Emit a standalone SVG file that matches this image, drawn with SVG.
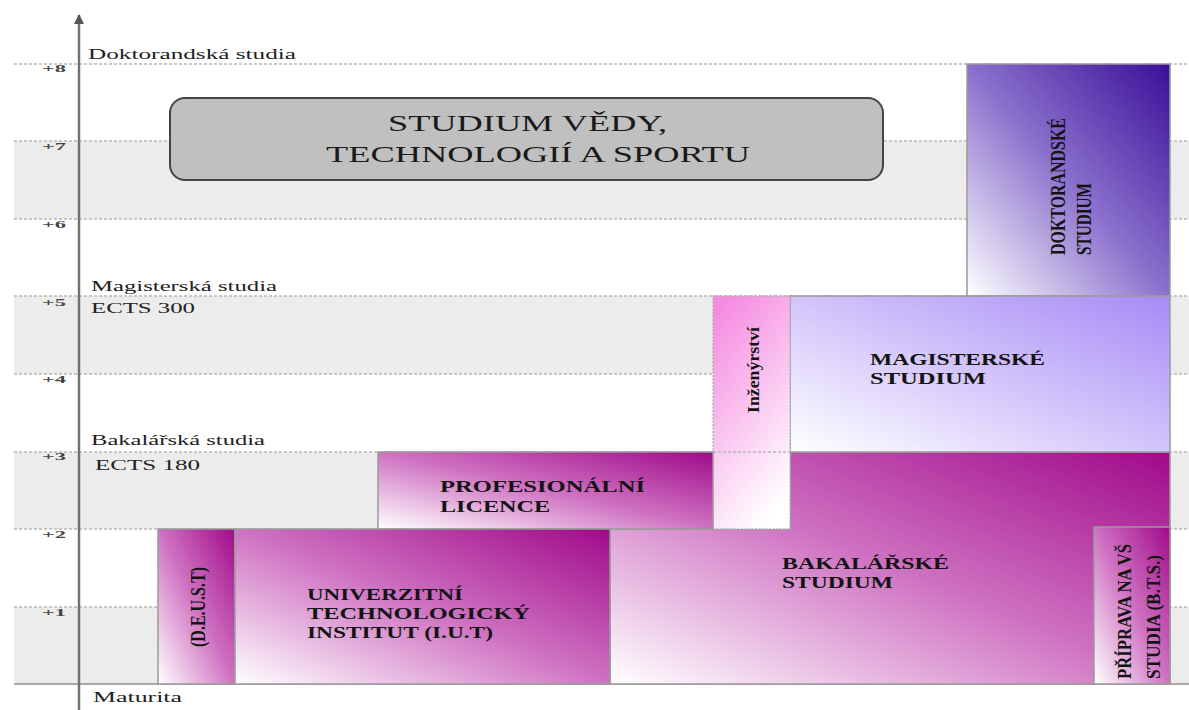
<svg xmlns="http://www.w3.org/2000/svg" width="1189" height="710" viewBox="0 0 1189 710">
<defs>
<style>
.band{fill:#ececec}
.grid{stroke:#b8b8b8;stroke-width:1.3;stroke-dasharray:3 2;fill:none}
.tick{font-weight:bold;font-size:11px;fill:#444;text-anchor:end}
.lab{font-size:15px;fill:#222}
.box{stroke:#9a9a9a;stroke-width:1.5}
.bt{font-weight:bold;font-size:17px;fill:#141414}
.vt{font-weight:bold;fill:#141414}
.head{font-size:23px;fill:#1a1a1a}
</style>
<linearGradient id="gMag" x1="0" y1="1" x2="1" y2="0">
<stop offset="0" stop-color="#ffffff"/>
<stop offset="0.5" stop-color="#cf72c2"/>
<stop offset="1" stop-color="#a00a8a"/>
</linearGradient>
<linearGradient id="gDok" x1="0" y1="1" x2="1" y2="0">
<stop offset="0" stop-color="#ffffff"/>
<stop offset="0.5" stop-color="#8a70cc"/>
<stop offset="1" stop-color="#3a0f98"/>
</linearGradient>
<linearGradient id="gMgr" x1="0" y1="1" x2="1" y2="0">
<stop offset="0" stop-color="#ffffff"/>
<stop offset="1" stop-color="#a68af6"/>
</linearGradient>
<linearGradient id="gIng" x1="0.2" y1="0" x2="0.6" y2="1">
<stop offset="0" stop-color="#f58be1"/>
<stop offset="1" stop-color="#ffffff"/>
</linearGradient>
<marker id="arr" viewBox="0 0 10 10" refX="9" refY="5" markerWidth="4" markerHeight="4" orient="auto">
<path d="M0,0 L10,5 L0,10 z" fill="#555"/>
</marker>
</defs>
<rect width="1189" height="710" fill="#ffffff"/>

<g id="bands">
<rect class="band" x="14" y="141" width="1175" height="78"/>
<rect class="band" x="14" y="296" width="1175" height="78"/>
<rect class="band" x="14" y="452" width="1175" height="77"/>
<rect class="band" x="14" y="607" width="1175" height="77"/>
<line class="grid" x1="14" y1="64" x2="1189" y2="64"/>
<line class="grid" x1="14" y1="141" x2="1189" y2="141"/>
<line class="grid" x1="14" y1="219" x2="1189" y2="219"/>
<line class="grid" x1="14" y1="296" x2="1189" y2="296"/>
<line class="grid" x1="14" y1="374" x2="1189" y2="374"/>
<line class="grid" x1="14" y1="452" x2="1189" y2="452"/>
<line class="grid" x1="14" y1="529" x2="1189" y2="529"/>
<line class="grid" x1="14" y1="607" x2="1189" y2="607"/>
<line x1="14" y1="684" x2="1189" y2="684" stroke="#a8a8a8" stroke-width="2"/>
</g>

<g id="ticks" font-family="Liberation Serif, serif">
<text class="tick" x="66" y="72" textLength="24" lengthAdjust="spacingAndGlyphs">+8</text>
<text class="tick" x="66" y="150" textLength="24" lengthAdjust="spacingAndGlyphs">+7</text>
<text class="tick" x="66" y="228" textLength="24" lengthAdjust="spacingAndGlyphs">+6</text>
<text class="tick" x="66" y="306" textLength="24" lengthAdjust="spacingAndGlyphs">+5</text>
<text class="tick" x="66" y="383" textLength="24" lengthAdjust="spacingAndGlyphs">+4</text>
<text class="tick" x="66" y="460" textLength="24" lengthAdjust="spacingAndGlyphs">+3</text>
<text class="tick" x="66" y="538" textLength="24" lengthAdjust="spacingAndGlyphs">+2</text>
<text class="tick" x="66" y="616" textLength="24" lengthAdjust="spacingAndGlyphs">+1</text>
</g>

<g id="side-labels" font-family="Liberation Serif, serif">
<text class="lab" x="88" y="59" textLength="208" lengthAdjust="spacingAndGlyphs">Doktorandská studia</text>
<text class="lab" x="91" y="291" textLength="186" lengthAdjust="spacingAndGlyphs">Magisterská studia</text>
<text class="lab" x="91" y="313" textLength="104" lengthAdjust="spacingAndGlyphs">ECTS 300</text>
<text class="lab" x="91" y="445" textLength="174" lengthAdjust="spacingAndGlyphs">Bakalářská studia</text>
<text class="lab" x="95" y="470" textLength="105" lengthAdjust="spacingAndGlyphs">ECTS 180</text>
<text class="lab" x="93" y="702" textLength="89" lengthAdjust="spacingAndGlyphs">Maturita</text>
</g>

<g id="heading" font-family="Liberation Serif, serif">
<rect x="170" y="98" width="713" height="82" rx="15" ry="15" fill="#c0c0c0" stroke="#444" stroke-width="2"/>
<text class="head" x="388" y="131" textLength="279" lengthAdjust="spacingAndGlyphs">STUDIUM VĚDY,</text>
<text class="head" x="326" y="162" textLength="424" lengthAdjust="spacingAndGlyphs">TECHNOLOGIÍ A SPORTU</text>
</g>

<g id="doktorandske" font-family="Liberation Serif, serif">
<rect class="box" x="967" y="64" width="203" height="232" fill="url(#gDok)"/>
<text class="vt" font-size="22" transform="rotate(-90 1065 255)" x="1065" y="255" textLength="137" lengthAdjust="spacingAndGlyphs">DOKTORANDSKÉ</text>
<text class="vt" font-size="22" transform="rotate(-90 1091 255)" x="1091" y="255" textLength="72" lengthAdjust="spacingAndGlyphs">STUDIUM</text>
</g>

<g id="bakalarske" font-family="Liberation Serif, serif">
<path class="box" d="M790,452 H1170 V684 H610 V529 H790 Z" fill="url(#gMag)"/>
<text class="bt" x="782" y="569" textLength="167" lengthAdjust="spacingAndGlyphs">BAKALÁŘSKÉ</text>
<text class="bt" x="782" y="588" textLength="111" lengthAdjust="spacingAndGlyphs">STUDIUM</text>
</g>

<g id="magisterske" font-family="Liberation Serif, serif">
<rect class="box" x="790" y="296" width="380" height="156" fill="url(#gMgr)"/>
<text class="bt" x="870" y="365" textLength="175" lengthAdjust="spacingAndGlyphs">MAGISTERSKÉ</text>
<text class="bt" x="870" y="384" textLength="116" lengthAdjust="spacingAndGlyphs">STUDIUM</text>
</g>

<g id="inzenyrstvi" font-family="Liberation Serif, serif">
<rect x="713" y="296" width="77" height="233" fill="url(#gIng)" stroke="#b0b0b0" stroke-width="1.3" stroke-dasharray="2 1.5"/>
<line class="grid" x1="713" y1="452" x2="790" y2="452"/>
<text class="vt" font-size="17" text-anchor="middle" transform="rotate(-90 759 370)" x="759" y="370" textLength="86" lengthAdjust="spacingAndGlyphs">Inženýrství</text>
</g>

<g id="profesionalni-licence" font-family="Liberation Serif, serif">
<rect class="box" x="378" y="452" width="335" height="77" fill="url(#gMag)"/>
<text class="bt" x="440" y="492" textLength="205" lengthAdjust="spacingAndGlyphs">PROFESIONÁLNÍ</text>
<text class="bt" x="440" y="512" textLength="110" lengthAdjust="spacingAndGlyphs">LICENCE</text>
</g>

<g id="deust" font-family="Liberation Serif, serif">
<rect class="box" x="158" y="529" width="77" height="155" fill="url(#gMag)"/>
<text class="vt" font-size="20" text-anchor="middle" transform="rotate(-90 205 607)" x="205" y="607" textLength="80" lengthAdjust="spacingAndGlyphs">(D.E.U.S.T)</text>
</g>

<g id="iut" font-family="Liberation Serif, serif">
<rect class="box" x="235" y="529" width="375" height="155" fill="url(#gMag)"/>
<text class="bt" x="307" y="600" textLength="156" lengthAdjust="spacingAndGlyphs">UNIVERZITNÍ</text>
<text class="bt" x="307" y="619" textLength="223" lengthAdjust="spacingAndGlyphs">TECHNOLOGICKÝ</text>
<text class="bt" x="307" y="638" textLength="186" lengthAdjust="spacingAndGlyphs">INSTITUT (I.U.T)</text>
</g>

<g id="priprava" font-family="Liberation Serif, serif">
<rect class="box" x="1094" y="527" width="76" height="157" fill="url(#gMag)"/>
<text class="vt" font-size="19" transform="rotate(-90 1131 679)" x="1131" y="679" textLength="135" lengthAdjust="spacingAndGlyphs">PŘÍPRAVA NA VŠ</text>
<text class="vt" font-size="19" transform="rotate(-90 1160 679)" x="1160" y="679" textLength="124" lengthAdjust="spacingAndGlyphs">STUDIA (B.T.S.)</text>
</g>

<g id="connectors">
<line x1="79" y1="710" x2="79" y2="15" stroke="#707070" stroke-width="2.5" marker-end="url(#arr)"/>
</g>
</svg>
